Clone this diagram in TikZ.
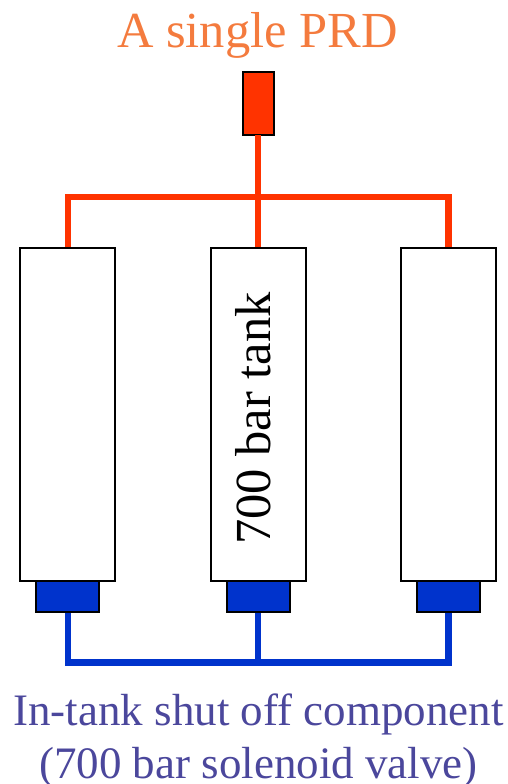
\documentclass[tikz,border=0pt]{standalone}
\usepackage{fontspec}
\setmainfont{Liberation Serif}
\definecolor{orangetxt}{HTML}{F47B3E}
\definecolor{redline}{HTML}{FF3300}
\definecolor{bluefill}{HTML}{0033CC}
\definecolor{purpletxt}{HTML}{4B479C}
\begin{document}
\begin{tikzpicture}[x=1pt,y=-1pt,
  tankbox/.style={draw=black,fill=white,line width=2pt,minimum width=95pt,minimum height=333pt,inner sep=0,outer sep=0},
  valvebox/.style={draw=black,fill=bluefill,line width=2pt,minimum width=63pt,minimum height=31pt,inner sep=0,outer sep=0},
  prdbox/.style={draw=black,fill=redline,line width=2pt,minimum width=31pt,minimum height=63pt,inner sep=0,outer sep=0},
  redpipe/.style={draw=redline,line width=6.3pt},
  bluepipe/.style={draw=bluefill,line width=6.3pt},
  lab/.style={font=\fontsize{50.5}{58}\selectfont,inner sep=0,anchor=base},
  labb/.style={font=\fontsize{45}{52}\selectfont,inner sep=0,anchor=base}]
\useasboundingbox (0,0) rectangle (508,784);
\coordinate (rl) at (67.7,196.7);
\coordinate (rm) at (258,196.7);
\coordinate (rr) at (448.5,196.7);
\coordinate (bl) at (67.7,662.5);
\coordinate (bm) at (258,662.5);
\coordinate (br) at (448.5,662.5);
\draw[redpipe,line join=miter] (67.7,247) -- (rl) -- (rr) -- (448.5,247);
\draw[bluepipe,line join=miter] (67.7,612) -- (bl) -- (br) -- (448.5,612);
\node[prdbox] (prd) at (258,103.5) {};
\draw[redpipe] (prd.south) -- (258,247);
\draw[bluepipe] (258,612) -- (bm);
\node[tankbox] (t1) at (67.7,414) {};
\node[tankbox] (t2) at (258,414) {};
\node[tankbox] (t3) at (448.5,414) {};
\node[valvebox] (v1) at (67.7,596.7) {};
\node[valvebox] (v2) at (258,596.7) {};
\node[valvebox] (v3) at (448.5,596.7) {};
\node[lab,text=orangetxt] (title) at (257.5,47.5) {A single PRD};
\node[lab,rotate=90,text=black] (tlab) at (270,418.5) {700 bar tank};
\node[labb,text=purpletxt] (b1) at (258.5,725) {In-tank shut off component};
\node[labb,text=purpletxt] (b2) at (258.5,778) {(700 bar solenoid valve)};
\end{tikzpicture}
\end{document}
